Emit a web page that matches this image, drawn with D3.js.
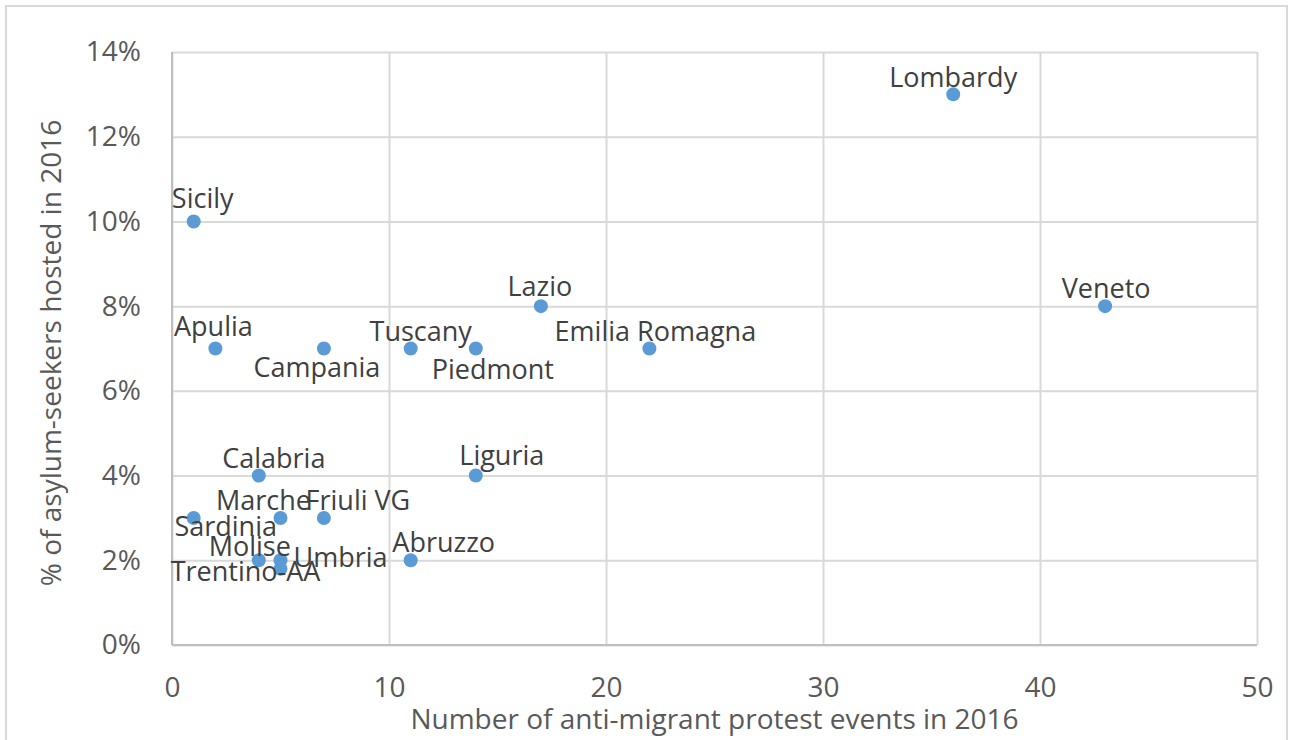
<!DOCTYPE html>
<html>
<head>
    <meta charset="UTF-8">
    <title>Protests vs asylum-seekers</title>
    <style>
        body { margin: 0; background: #fff; }
        text { font-family: "Open Sans", sans-serif; }
    </style>
</head>
<body>
    <script src="https://cdn.jsdelivr.net/npm/d3@7"></script>
    <script>
        // data
        var regions = ["Lombardy", "Sicily", "Lazio", "Veneto", "Apulia", "Campania", "Tuscany", "Piedmont",
            "Emilia Romagna", "Calabria", "Liguria", "Sardinia", "Marche", "Friuli VG", "Molise", "Umbria",
            "Abruzzo", "Trentino-AA"]
        var protests = [36, 1, 17, 43, 2, 7, 11, 14, 22, 4, 14, 1, 5, 7, 4, 5, 11, 5]
        var asylumShare = [0.13, 0.10, 0.08, 0.08, 0.07, 0.07, 0.07, 0.07, 0.07, 0.04, 0.04, 0.03, 0.03, 0.03,
            0.02, 0.02, 0.02, 0.018]
        var xTicks = [0, 10, 20, 30, 40, 50]
        var yTicks = [0, 0.02, 0.04, 0.06, 0.08, 0.10, 0.12, 0.14]

        // label offsets (px from the dot: centre x, baseline y), placed by hand as in the original
        var labelOffset = {
            "Lombardy": [0, -7], "Sicily": [9, -13], "Lazio": [-1, -10], "Veneto": [1, -8],
            "Apulia": [-2, -13], "Campania": [-7, 28], "Tuscany": [10, -8], "Piedmont": [17, 30],
            "Emilia Romagna": [6, -8], "Calabria": [15, -8], "Liguria": [26, -11], "Sardinia": [32, 18],
            "Marche": [-17, -8], "Friuli VG": [34, -8], "Molise": [-9, -4], "Umbria": [60, 7],
            "Abruzzo": [33, -8], "Trentino-AA": [-35, 12]
        }

        var width = 1292
        var height = 740
        var plot = { left: 172, right: 1257, top: 52, bottom: 645 }
        var labelSize = "27px"
        var axisSize = "28px"

        var svg = d3.select("body").append("svg")
            .attr("width", width)
            .attr("height", height)

        // outer chart border
        svg.append("rect")
            .attr("x", 6).attr("y", 6)
            .attr("width", 1281).attr("height", 760)
            .attr("fill", "none")
            .attr("stroke", "#d9d9d9")
            .attr("stroke-width", 2)

        var x = d3.scaleLinear().domain([0, 50]).range([plot.left, plot.right])
        var y = d3.scaleLinear().domain([0, 0.14]).range([plot.bottom, plot.top])

        // grid
        svg.append("g")
            .attr("transform", "translate(0," + plot.bottom + ")")
            .call(d3.axisBottom(x).tickValues(xTicks).tickSize(-(plot.bottom - plot.top)).tickFormat(""))
            .call(function (g) {
                g.select(".domain").remove()
                g.selectAll("line").attr("stroke", "#d9d9d9").attr("stroke-width", 2)
            })
        svg.append("g")
            .attr("transform", "translate(" + plot.left + ",0)")
            .call(d3.axisLeft(y).tickValues(yTicks).tickSize(-(plot.right - plot.left)).tickFormat(""))
            .call(function (g) {
                g.select(".domain").remove()
                g.selectAll("line").attr("stroke", "#d9d9d9").attr("stroke-width", 2)
            })

        // axis lines
        svg.append("line")
            .attr("x1", plot.left).attr("x2", plot.right)
            .attr("y1", plot.bottom).attr("y2", plot.bottom)
            .attr("stroke", "#bfbfbf").attr("stroke-width", 2)
        svg.append("line")
            .attr("x1", plot.left).attr("x2", plot.left)
            .attr("y1", plot.top).attr("y2", plot.bottom)
            .attr("stroke", "#bfbfbf").attr("stroke-width", 2)

        // tick labels
        var xAxis = svg.append("g")
            .attr("transform", "translate(0," + plot.bottom + ")")
            .call(d3.axisBottom(x).tickValues(xTicks).tickSize(0).tickPadding(32))
        xAxis.select(".domain").remove()
        xAxis.selectAll("text")
            .attr("font-family", "Open Sans").attr("font-size", axisSize).attr("fill", "#595959")

        var yAxis = svg.append("g")
            .attr("transform", "translate(" + plot.left + ",0)")
            .call(d3.axisLeft(y).tickValues(yTicks).tickSize(0).tickPadding(31).tickFormat(d3.format(".0%")))
        yAxis.select(".domain").remove()
        yAxis.selectAll("text")
            .attr("font-family", "Open Sans").attr("font-size", axisSize).attr("fill", "#595959")

        // axis titles
        svg.append("text")
            .attr("x", (plot.left + plot.right) / 2)
            .attr("y", 729)
            .attr("text-anchor", "middle")
            .attr("font-size", axisSize)
            .attr("fill", "#595959")
            .text("Number of anti-migrant protest events in 2016")
        svg.append("text")
            .attr("transform", "translate(61," + 353 + ") rotate(-90)")
            .attr("text-anchor", "middle")
            .attr("font-size", axisSize)
            .attr("fill", "#595959")
            .text("% of asylum-seekers hosted in 2016")

        var points = regions.map(function (r, i) {
            return { name: r, x: protests[i], y: asylumShare[i] }
        })

        // dots
        svg.selectAll("circle.pt")
            .data(points)
            .enter()
            .append("circle")
            .attr("class", "pt")
            .attr("cx", function (d) { return x(d.x) })
            .attr("cy", function (d) { return y(d.y) })
            .attr("r", 7)
            .attr("fill", "#5b9bd5")

        // data labels
        svg.selectAll("text.lbl")
            .data(points)
            .enter()
            .append("text")
            .attr("class", "lbl")
            .attr("x", function (d) { return x(d.x) + labelOffset[d.name][0] })
            .attr("y", function (d) { return y(d.y) + labelOffset[d.name][1] })
            .attr("text-anchor", "middle")
            .attr("font-size", labelSize)
            .attr("fill", "#404040")
            .text(function (d) { return d.name })
    </script>
</body>
</html>
